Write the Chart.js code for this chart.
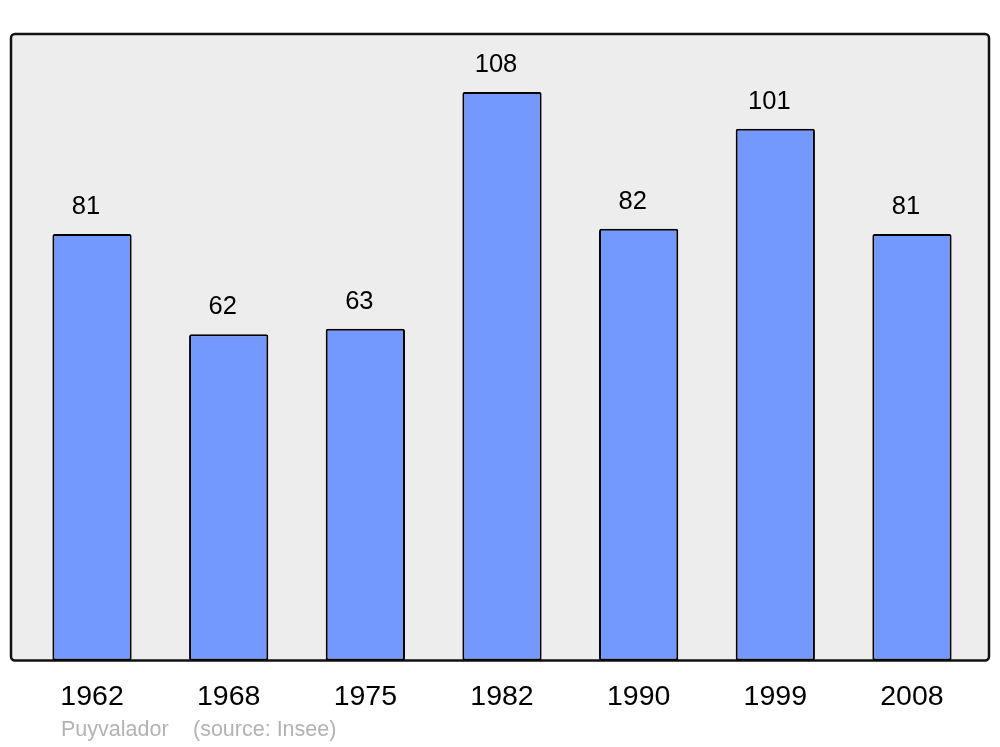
<!DOCTYPE html>
<html>
<head>
<meta charset="utf-8">
<script src="https://cdn.jsdelivr.net/npm/chart.js@4/dist/chart.umd.min.js"></script>
<style>
  html, body { margin: 0; padding: 0; background: #fff; }
  #wrap { width: 1000px; height: 747px; }
</style>
</head>
<body>
<div id="wrap"><canvas id="chart" width="1000" height="747"></canvas></div>
<script>
// données
const years = ['1962', '1968', '1975', '1982', '1990', '1999', '2008'];
const population = [81, 62, 63, 108, 82, 101, 81];
const commune = 'Puyvalador';
const source = '(source: Insee)';

const FONT = '"Liberation Sans", Arial, sans-serif';

// fond gris + cadre arrondi autour de la zone du graphique
const framePlugin = {
  id: 'frame',
  beforeDraw(chart) {
    const { ctx, chartArea: a } = chart;
    const x = a.left - 12.7, y = a.top, w = a.right + 8.7 - x, h = a.bottom - a.top;
    ctx.save();
    ctx.beginPath();
    ctx.roundRect(x, y, w, h, 4);
    ctx.fillStyle = '#ededed';
    ctx.fill();
    ctx.lineWidth = 2.5;
    ctx.strokeStyle = '#111';
    ctx.stroke();
    ctx.restore();
  }
};

// valeurs au-dessus des barres + texte source
const labelPlugin = {
  id: 'labels',
  afterDatasetsDraw(chart) {
    const { ctx } = chart;
    const meta = chart.getDatasetMeta(0);
    ctx.save();
    ctx.font = '25.5px ' + FONT;
    ctx.fillStyle = '#000';
    ctx.textAlign = 'center';
    ctx.textBaseline = 'middle';
    meta.data.forEach((bar, i) => {
      ctx.fillText(String(population[i]), bar.x - 6, bar.y - 27);
    });
    ctx.font = '21.5px ' + FONT;
    ctx.fillStyle = '#b3b3b3';
    ctx.textAlign = 'left';
    ctx.fillText(commune, 61, 730);
    ctx.fillText(source, 193, 730);
    ctx.restore();
  }
};

new Chart(document.getElementById('chart'), {
  type: 'bar',
  data: {
    labels: years,
    datasets: [{
      data: population,
      backgroundColor: '#7399ff',
      borderColor: '#000',
      borderWidth: 2,
      borderRadius: 2,
      borderSkipped: false,
      categoryPercentage: 1,
      barPercentage: 0.58
    }]
  },
  options: {
    responsive: false,
    animation: false,
    layout: { padding: { left: 23.7, right: 19.7, top: 34, bottom: 13.4 } },
    plugins: {
      legend: { display: false },
      tooltip: { enabled: false }
    },
    scales: {
      x: {
        grid: { display: false, drawTicks: false },
        border: { display: false },
        ticks: { color: '#000', padding: 19.4, font: { family: FONT, size: 28.5 } }
      },
      y: {
        display: false,
        min: 0,
        max: 119
      }
    }
  },
  plugins: [framePlugin, labelPlugin]
});
</script>
</body>
</html>
